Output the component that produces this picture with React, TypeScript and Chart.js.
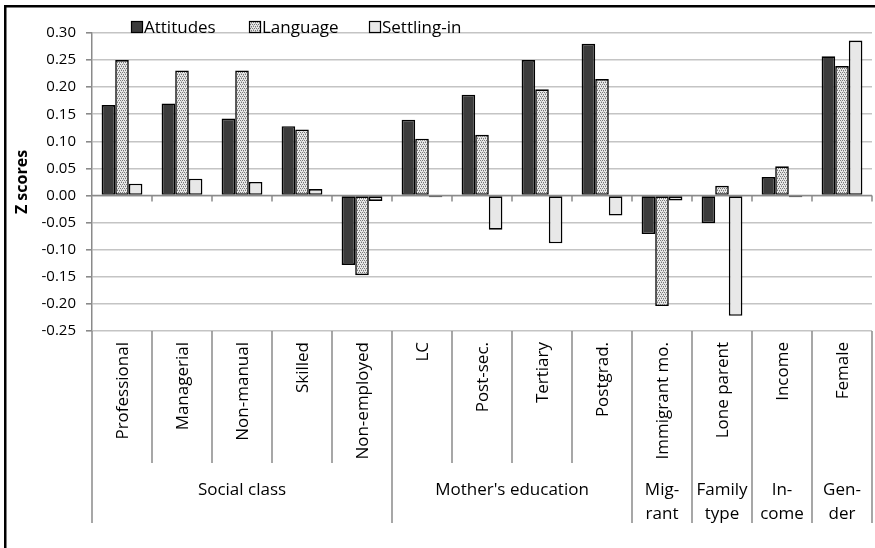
import React, { useEffect, useRef } from "react";
import { Chart, registerables } from "chart.js";
Chart.register(...registerables);

const categories = ["Professional", "Managerial", "Non-manual", "Skilled", "Non-employed", "LC", "Post-sec.", "Tertiary", "Postgrad.", "Immigrant mo.", "Lone parent", "Income", "Female"];
const attitudes = [0.167, 0.170, 0.142, 0.128, -0.128, 0.140, 0.186, 0.250, 0.280, -0.071, -0.051, 0.034, 0.257];
const language = [0.250, 0.231, 0.231, 0.122, -0.147, 0.105, 0.112, 0.196, 0.215, -0.204, 0.018, 0.054, 0.239];
const settlingIn = [0.022, 0.031, 0.025, 0.012, -0.010, -0.003, -0.063, -0.088, -0.037, -0.009, -0.222, -0.003, 0.286];
const seriesNames = ["Attitudes", "Language", "Settling-in"];
const groupLabels = [["Social class"], ["Mother's education"], ["Mig-", "rant"], ["Family", "type"], ["In-", "come"], ["Gen-", "der"]];
const groupSpans = [5, 4, 1, 1, 1, 1];
const yMin = -0.25;
const yMax = 0.30;
const yStep = 0.05;

const FONT = '"Open Sans", sans-serif';
const AXIS = "#8a8a8a";

function makePattern(): CanvasPattern | string {
  const c = document.createElement("canvas");
  c.width = 4;
  c.height = 4;
  const g = c.getContext("2d");
  if (!g) return "#c8c8c8";
  g.fillStyle = "#e8e8e8";
  g.fillRect(0, 0, 4, 4);
  g.fillStyle = "#7a7a7a";
  g.fillRect(0, 0, 1, 1);
  g.fillRect(2, 0, 1, 1);
  g.fillRect(1, 2, 1, 1);
  g.fillRect(3, 2, 1, 1);
  g.fillStyle = "#b4b4b4";
  g.fillRect(1, 1, 1, 1);
  g.fillRect(3, 3, 1, 1);
  const p = g.createPattern(c, "repeat");
  return p || "#c8c8c8";
}

export default function App() {
  const ref = useRef<HTMLCanvasElement>(null);
  useEffect(() => {
    document.body.style.margin = "0";
    const canvas = ref.current!;
    const pattern = makePattern();
    const fills: any[] = ["#3c3c3c", pattern, "#e8e8e8"];

    const tablePlugin = {
      id: "tablePlugin",
      afterDatasetsDraw(chart: any) {
        const { ctx, chartArea, scales } = chart;
        const y0 = scales.y.getPixelForValue(0);
        const w = (chartArea.right - chartArea.left) / categories.length;
        ctx.save();
        ctx.strokeStyle = AXIS;
        ctx.lineWidth = 1.5;
        ctx.beginPath();
        ctx.moveTo(chartArea.left, y0);
        ctx.lineTo(chartArea.right, y0);
        for (let i = 1; i <= categories.length; i++) {
          const x = chartArea.left + i * w;
          ctx.moveTo(x, y0);
          ctx.lineTo(x, y0 + 6);
        }
        ctx.stroke();
        ctx.restore();
      },
      afterDraw(chart: any) {
        const { ctx, chartArea } = chart;
        const left = chartArea.left;
        const bottom = chartArea.bottom;
        const n = categories.length;
        const w = (chartArea.right - left) / n;
        const catBottom = bottom + 132;
        const grpBottom = bottom + 192;
        ctx.save();
        const boundaries = new Set<number>();
        let acc = 0;
        boundaries.add(0);
        groupSpans.forEach((s) => { acc += s; boundaries.add(acc); });
        ctx.strokeStyle = AXIS;
        ctx.lineWidth = 1.5;
        ctx.beginPath();
        for (let i = 0; i <= n; i++) {
          const x = left + i * w;
          ctx.moveTo(x, bottom);
          ctx.lineTo(x, boundaries.has(i) ? grpBottom : catBottom);
        }
        ctx.stroke();
        ctx.fillStyle = "#000";
        ctx.font = `17px ${FONT}`;
        categories.forEach((c, i) => {
          const cx = left + (i + 0.5) * w;
          ctx.save();
          ctx.translate(cx + 1, bottom + 11);
          ctx.rotate(-Math.PI / 2);
          ctx.textAlign = "right";
          ctx.textBaseline = "middle";
          ctx.fillText(c, 0, 0);
          ctx.restore();
        });
        ctx.textAlign = "center";
        ctx.textBaseline = "alphabetic";
        ctx.font = `17px ${FONT}`;
        let start = 0;
        groupLabels.forEach((lines, gi) => {
          const span = groupSpans[gi];
          const cx = left + (start + span / 2) * w;
          lines.forEach((t, li) => {
            ctx.fillText(t, cx, bottom + 164 + li * 24);
          });
          start += span;
        });
        const legendX = [131, 249, 369];
        ctx.font = `17px ${FONT}`;
        ctx.textAlign = "left";
        seriesNames.forEach((name, i) => {
          const bx = legendX[i];
          ctx.fillStyle = fills[i];
          ctx.fillRect(bx, 21, 11, 11);
          ctx.strokeStyle = "#000";
          ctx.lineWidth = 1.2;
          ctx.strokeRect(bx + 0.5, 21.5, 11, 11);
          ctx.fillStyle = "#000";
          ctx.fillText(name, bx + 13, 33);
        });
        ctx.strokeStyle = "#000";
        ctx.lineWidth = 2.5;
        ctx.strokeRect(5.25, 6.25, 2000, 2000);
        ctx.restore();
      },
    };

    const chart = new Chart(canvas, {
      type: "bar",
      data: {
        labels: categories,
        datasets: [attitudes, language, settlingIn].map((d, i) => ({
          label: seriesNames[i],
          data: d,
          backgroundColor: fills[i],
          borderColor: "#000",
          borderWidth: 1.6,
          borderSkipped: false,
          categoryPercentage: 0.68,
          barPercentage: 1.0,
        })),
      },
      options: {
        responsive: false,
        animation: false,
        devicePixelRatio: 1,
        layout: { padding: { left: 0, right: 3, top: 33, bottom: 217 } },
        plugins: { legend: { display: false }, tooltip: { enabled: false } },
        scales: {
          x: { display: false },
          y: {
            min: yMin,
            max: yMax,
            afterFit: (s: any) => { s.width = 92; },
            ticks: {
              stepSize: yStep,
              color: "#000",
              padding: 10,
              font: { family: FONT, size: 15 },
              callback: (v: any) => Number(v).toFixed(2),
            },
            grid: {
              color: "#c4c4c4",
              lineWidth: 1.6,
              tickColor: AXIS,
              tickLength: 6,
            },
            border: { display: true, color: AXIS, width: 1.5 },
            title: {
              display: true,
              text: "Z scores",
              color: "#000",
              font: { family: FONT, size: 16, weight: "bold" },
              padding: { top: 13, bottom: 0 },
            },
          },
        },
      },
      plugins: [tablePlugin],
    } as any);
    return () => chart.destroy();
  }, []);
  return <canvas ref={ref} width={875} height={548} style={{ display: "block" }} />;
}
